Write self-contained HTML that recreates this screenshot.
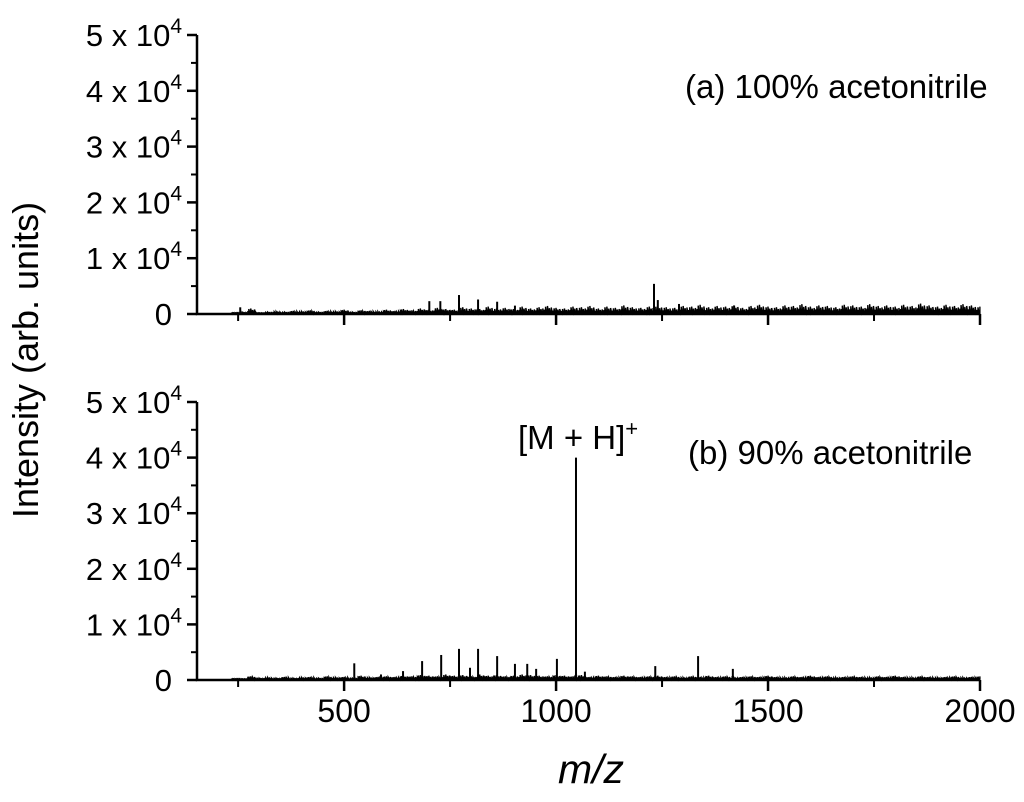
<!DOCTYPE html>
<html><head><meta charset="utf-8"><style>
body{margin:0;background:#fff}
svg text{font-family:"Liberation Sans",Arial,sans-serif;fill:#000}
</style></head><body>
<svg id="c" width="1024" height="797" viewBox="0 0 1024 797" xmlns="http://www.w3.org/2000/svg">
<text x="38" y="360" font-size="36" transform="rotate(-90 38 360)" text-anchor="middle">Intensity (arb. units)</text>
<text x="591" y="783" font-size="41" text-anchor="middle" font-style="italic">m/z</text>
<text x="685" y="98" font-size="33">(a) 100% acetonitrile</text>
<text x="688" y="464" font-size="33">(b) 90% acetonitrile</text>
<text x="518" y="449" font-size="33">[M + H]<tspan dy="-13" font-size="22">+</tspan></text>
</svg>
<script>
const xTicks=[500,1000,1500,2000];
const xMinor=[250,750,1250,1750];
const yTicks=[0,10000,20000,30000,40000,50000];
const yTickLabels=["0","1 x 10","2 x 10","3 x 10","4 x 10","5 x 10"];
const peaksA_mz=[255,701,727,771,816,861,903,1231,1240,1290,1420];
const peaksA_int=[1200,2300,2300,3400,2600,2200,1500,5400,2500,1800,1500];
const peaksB_mz=[524,587,639,684,729,771,797,816,861,903,932,953,1002,1047,1068,1234,1335,1417];
const peaksB_int=[3000,1000,1600,3400,4500,5600,2200,5600,4300,2900,2900,2000,3800,40000,1500,2500,4300,2000];
const noiseA=[100,300,900,200,300,400,300,500,400,600,300,500,400,700,300,600,500,400,700,500,800,600,900,700,1000,800,700,1100,900,800,1200,900,1000,800,1200,900,1100,1300,1000,900,1200,1100,1300,900,1200,1000,1400,1100,1000,1200,1300,1100,1000,1300,1200,1500,1100,1300,1200,1400,1000,1300,1500,1200,1100,1400,1300,1600,1200,1400,1300,1100,1500,1400,1200,1600,1300,1400,1200,1500,1300,1700,1400,1200,1500,1300,1600,1400,1200,1500,1400,1300,1600];
const noiseB=[100,200,600,300,400,300,500,300,400,500,300,600,400,500,300,700,400,500,600,500,700,600,800,700,600,900,700,800,600,900,700,800,600,700,900,800,700,600,800,700,600,800,500,700,600,500,700,600,500,600,700,500,600,400,600,500,700,500,600,400,500,600,500,700,500,400,600,500,700,500,600,400,500,600,500,400,600,500,700,500,400,600,500,400,500,600,400,500,600,500,400,500,600];
const NS="http://www.w3.org/2000/svg";
const svg=document.getElementById('c');
const X0=197,X1=980,MZ0=153,MZ1=2000;
const xs=m=>X0+(m-MZ0)/(MZ1-MZ0)*(X1-X0);
const shape=[[0,0.6],[1,1.0],[2,0.4],[3,1.1],[4,0.5],[5,0.8],[6,0.3],[7,0.9],[8,0.45]];
function mk(t,a){const e=document.createElementNS(NS,t);for(const k in a)e.setAttribute(k,a[k]);svg.appendChild(e);return e;}
function panel(base,top,pm,pi,noise,labels,id){
  const ys=v=>base-v/50000*(base-top);
  let d=`M${xs(MZ0+80)} ${base-1}`;
  noise.forEach((v,i)=>{const m=MZ0+80+i*20;if(m>MZ1-5)return;const x=xs(m);
    shape.forEach(s=>{const xx=x+s[0]*0.95;if(xx>X1)return;d+=`L${xx} ${base-1}L${xx} ${ys(v*s[1])}`;});});
  const n=mk('path',{d:d,stroke:'#000','stroke-width':1.4,fill:'none'});
  
  
  pm.forEach((m,i)=>{const p=mk('line',{x1:xs(m),x2:xs(m),y1:base,y2:ys(pi[i]),stroke:'#000','stroke-width':2});
    
    });
  const ax=mk('path',{d:`M${X0} ${top}V${base}H${X1}`,stroke:'#000','stroke-width':2.5,fill:'none'});
  
  
  yTicks.forEach((v,i)=>{
    const t=mk('line',{x1:X0-10,x2:X0,y1:ys(v),y2:ys(v),stroke:'#000','stroke-width':2.5});
    
    
    if(i<yTicks.length-1){const m=mk('line',{x1:X0-6,x2:X0,y1:ys(v+5000),y2:ys(v+5000),stroke:'#000','stroke-width':2});
      
      }
    const tx=mk('text',{x:i==0?172:182,y:ys(v)+11,'font-size':31,'text-anchor':'end'});
    tx.textContent=yTickLabels[i];
    if(i>0){const s=document.createElementNS(NS,'tspan');s.setAttribute('dy','-13');s.setAttribute('font-size','21');s.textContent='4';tx.appendChild(s);}
    
    
  });
  xTicks.forEach(v=>{const t=mk('line',{x1:xs(v),x2:xs(v),y1:base,y2:base+11,stroke:'#000','stroke-width':2.5});
    
    
    if(labels){const tx=mk('text',{x:xs(v),y:base+42,'font-size':32,'text-anchor':'middle'});tx.textContent=v;
      
      }});
  xMinor.forEach(v=>{const t=mk('line',{x1:xs(v),x2:xs(v),y1:base,y2:base+7,stroke:'#000','stroke-width':2});
    
    });
}
panel(314,35,peaksA_mz,peaksA_int,noiseA,false,'panel-a');
panel(680,402,peaksB_mz,peaksB_int,noiseB,true,'panel-b');
</script>
</body></html>
